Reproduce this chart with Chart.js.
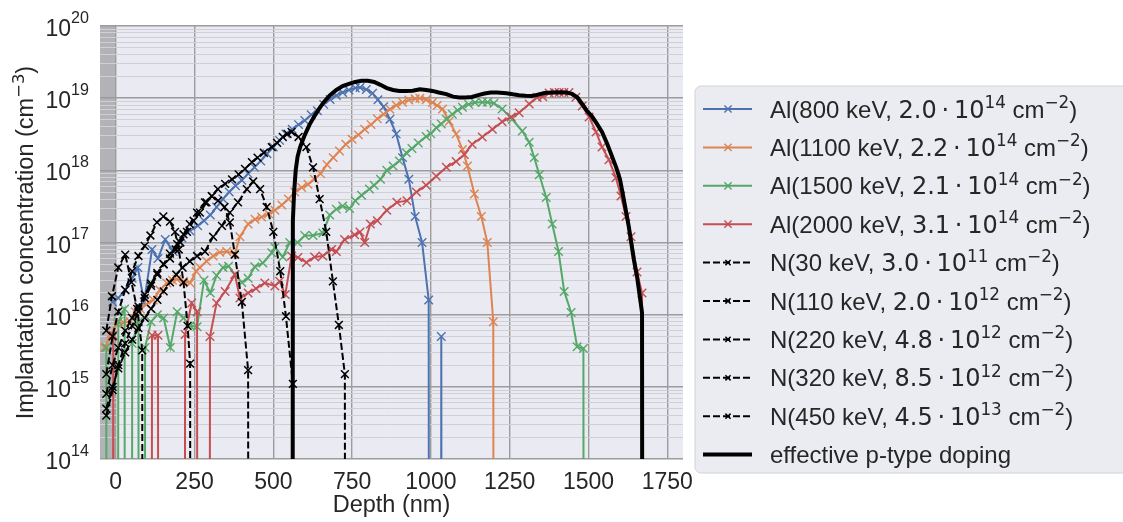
<!DOCTYPE html>
<html>
<head>
<meta charset="utf-8">
<title>Implantation profiles</title>
<script src="https://cdn.jsdelivr.net/npm/chart.js@4.4.1/dist/chart.umd.min.js"></script>
<style>
  html, body { margin: 0; padding: 0; background: #ffffff; overflow: hidden; }
  canvas { display: block; }
</style>
</head>
<body>
<canvas id="profiles" width="1123" height="522"></canvas>
<script>
const FONT = '"Liberation Sans", Arial, sans-serif';
const MATH_FONT = '"DejaVu Sans", sans-serif';
const TEXT = '#262626';
// empty depth bins (zero counts): far below the log axis, so the line drops straight down
const ZERO = 1e-100;

// axes
const depthTicks = [0, 250, 500, 750, 1000, 1250, 1500, 1750];
const concDecades = [14, 15, 16, 17, 18, 19, 20];
const minorSteps = [2, 3, 4, 5, 6, 7, 8, 9];
const removedLayer = [-50, 0];   // grey band, depth < 0
const xTitle = 'Depth (nm)';
const yTitle = 'Implantation concentration (cm$^{\u22123}$)';

// $...$ = math part (DejaVu), ^{...} = superscript
const seriesLabels = [
  'Al(800 keV, $2.0\u2009\u00b7\u200910^{14}$ cm$^{\u22122}$)',
  'Al(1100 keV, $2.2\u2009\u00b7\u200910^{14}$ cm$^{\u22122}$)',
  'Al(1500 keV, $2.1\u2009\u00b7\u200910^{14}$ cm$^{\u22122}$)',
  'Al(2000 keV, $3.1\u2009\u00b7\u200910^{14}$ cm$^{\u22122}$)',
  'N(30 keV, $3.0\u2009\u00b7\u200910^{11}$ cm$^{\u22122}$)',
  'N(110 keV, $2.0\u2009\u00b7\u200910^{12}$ cm$^{\u22122}$)',
  'N(220 keV, $4.8\u2009\u00b7\u200910^{12}$ cm$^{\u22122}$)',
  'N(320 keV, $8.5\u2009\u00b7\u200910^{12}$ cm$^{\u22122}$)',
  'N(450 keV, $4.5\u2009\u00b7\u200910^{13}$ cm$^{\u22122}$)',
  'effective p-type doping'
];
const alColors = ['#4C72B0', '#DD8452', '#55A868', '#C44E52'];

// [depth nm, concentration cm^-3]
const al800 = [
  [-10, 1.5e16], [8, 1.7e16], [30, 2.2e16], [52, 3.2e16], [70, 4.5e16], [90, 1.5e16],
  [115, 8e16], [134, 6e16], [157, 1.1e17], [182, 7.5e16], [210, 1.15e17], [235, 1.45e17],
  [260, 1.7e17], [280, 2e17], [300, 2.4e17], [320, 3.1e17], [340, 4e17], [360, 5e17],
  [380, 6.1e17], [400, 7.3e17], [420, 9e17], [440, 1.1e18], [460, 1.35e18], [480, 1.7e18],
  [500, 2.1e18], [520, 2.6e18], [540, 3.2e18], [560, 3.7e18], [580, 4.3e18], [600, 4.9e18],
  [620, 5.9e18], [640, 6.7e18], [660, 8.2e18], [680, 9.6e18], [700, 1.09e19], [720, 1.2e19],
  [740, 1.3e19], [760, 1.38e19], [775, 1.41e19], [795, 1.32e19], [815, 1.17e19], [832, 9.5e18],
  [850, 7.6e18], [870, 5.1e18], [890, 3.2e18], [910, 1.5e18], [930, 7.5e17], [950, 2.3e17],
  [972, 1.0e17], [993, 1.6e16], [1013, ZERO], [1033, 5e15], [1053, ZERO]
];
const al1100 = [
  [-35, 3.5e15], [-15, 5.5e15], [5, 7.5e15], [25, 7.8e15], [46, 8e15], [62, 1.1e16],
  [78, 1.2e16], [98, 1.4e16], [119, 1.6e16], [140, 2.2e16], [162, 2.75e16], [180, 3e16],
  [194, 3.1e16], [215, 2.9e16], [236, 2.75e16], [255, 4e16], [267, 4.5e16], [288, 5.5e16],
  [309, 6.5e16], [330, 7.3e16], [352, 7.5e16], [378, 7e16], [394, 1.2e17], [420, 1.8e17],
  [442, 2.1e17], [463, 2.25e17], [485, 2.5e17], [505, 2.8e17], [527, 3.3e17], [548, 4e17],
  [568, 5e17], [590, 5.8e17], [610, 6.4e17], [630, 7.5e17], [650, 9e17], [670, 1.2e18],
  [690, 1.5e18], [710, 1.85e18], [730, 2.3e18], [750, 2.7e18], [770, 3.1e18], [790, 3.7e18],
  [810, 4.3e18], [830, 5.2e18], [850, 6.0e18], [870, 7.0e18], [890, 8.0e18], [910, 8.8e18],
  [930, 9.4e18], [950, 9.8e18], [965, 1.0e19], [985, 9.5e18], [1005, 8.7e18], [1020, 7.9e18],
  [1037, 7.1e18], [1058, 4.8e18], [1080, 3.2e18], [1100, 1.95e18], [1116, 1.15e18],
  [1138, 4.7e17], [1160, 2.3e17], [1179, 1.0e17], [1198, 8e15], [1218, ZERO]
];
const al1500 = [
  [-30, 3.5e15], [-12, ZERO], [8, 8e15], [28, 1.2e16], [45, ZERO], [52, 4e15], [72, 8e15],
  [88, ZERO], [93, 3.5e15], [112, 8e15], [132, 1.0e16], [152, 9e15], [173, 3.5e15],
  [195, 1.1e16], [215, 9e15], [236, 7e15], [258, 6.8e15], [280, 3e16], [300, 2e16],
  [320, 3.5e16], [340, 4.5e16], [358, 4.7e16], [378, 3.6e16], [400, 2.8e16], [420, 3.2e16],
  [441, 4.6e16], [467, 5.2e16], [495, 7.2e16], [505, 8.5e16], [530, 6.3e16], [552, 1.0e17],
  [577, 1.0e17], [600, 1.25e17], [626, 1.25e17], [657, 1.35e17], [679, 2.4e17], [700, 2.9e17],
  [720, 3.2e17], [742, 2.95e17], [760, 3.8e17], [780, 4.5e17], [805, 5.5e17], [820, 6.2e17],
  [840, 7.5e17], [860, 1.0e18], [880, 1.15e18], [900, 1.35e18], [922, 1.75e18], [940, 2.0e18],
  [960, 2.4e18], [985, 2.95e18], [1000, 3.2e18], [1017, 3.9e18], [1033, 4.4e18], [1049, 5.1e18],
  [1068, 6.0e18], [1085, 6.8e18], [1100, 7.5e18], [1120, 8.2e18], [1140, 8.7e18], [1163, 8.8e18],
  [1180, 8.8e18], [1200, 8.5e18], [1226, 7.1e18], [1258, 5.1e18], [1290, 3.5e18], [1312, 2.45e18],
  [1328, 1.5e18], [1344, 8.7e17], [1366, 4.2e17], [1385, 1.8e17], [1405, 7.5e16], [1423, 2.1e16],
  [1445, 1.07e16], [1464, 3.6e15], [1484, 3.4e15], [1504, ZERO]
];
const al2000 = [
  [-30, ZERO], [-8, 5.2e15], [12, ZERO], [95, ZERO], [115, 5.2e15], [134, 5.2e15], [155, ZERO],
  [200, ZERO], [220, 5.3e15], [241, 1.45e16], [258, 1.1e16], [278, ZERO], [299, 5e15],
  [320, 1.45e16], [347, 2.1e16], [378, 3.6e16], [394, 1.7e16], [420, 2.0e16], [445, 2.3e16],
  [473, 2.75e16], [505, 2.5e16], [520, 2.9e16], [538, 1.9e16], [558, 6.5e16], [578, 6.2e16],
  [605, 5.3e16], [631, 6.3e16], [657, 6.5e16], [685, 8e16], [700, 7.5e16], [726, 1.1e17],
  [758, 1.28e17], [775, 1.4e17], [790, 1.0e17], [808, 1.8e17], [830, 2.0e17], [860, 2.8e17],
  [892, 3.6e17], [924, 3.8e17], [954, 5.0e17], [985, 6.2e17], [1017, 8.3e17], [1049, 1.1e18],
  [1080, 1.33e18], [1106, 1.66e18], [1131, 2.3e18], [1163, 2.9e18], [1195, 3.7e18],
  [1226, 4.7e18], [1255, 5.5e18], [1280, 6.3e18], [1312, 8.3e18], [1337, 1.02e19],
  [1355, 1.05e19], [1375, 1.18e19], [1392, 1.2e19], [1407, 1.2e19], [1422, 1.2e19],
  [1438, 1.2e19], [1460, 1.03e19], [1480, 7.8e18], [1502, 5.5e18], [1524, 3.4e18],
  [1543, 2.1e18], [1565, 1.4e18], [1587, 7.9e17], [1603, 4.4e17], [1619, 2.3e17],
  [1635, 1.2e17], [1654, 3.9e16], [1670, 2.0e16], [1690, ZERO]
];
const n30 = [
  [-30, 6e15], [-12, 1.8e16], [8, 4.5e16], [30, 6.8e16], [50, 2.8e16], [68, 1.2e16],
  [84, 3.2e15], [104, ZERO]
];
const n110 = [
  [-30, 1.5e15], [-10, 5e15], [8, 1.1e16], [30, 2.2e16], [52, 4e16], [72, 6.5e16],
  [92, 9e16], [110, 1.25e17], [131, 1.9e17], [151, 2.3e17], [172, 1.95e17], [188, 1.4e17],
  [200, 8e16], [215, 2.8e16], [228, 7e15], [236, 2.1e15], [254, ZERO]
];
const n220 = [
  [-30, 8e14], [-10, 2e15], [8, 3.5e15], [30, 6e15], [52, 9e15], [72, 1.3e16], [92, 1.9e16],
  [112, 2.7e16], [132, 3.8e16], [152, 5e16], [172, 6e16], [190, 8e16], [205, 1.0e17],
  [226, 1.4e17], [247, 2e17], [267, 2.6e17], [288, 3.6e17], [305, 4.4e17], [325, 3.8e17],
  [345, 3.1e17], [362, 1.9e17], [378, 6.8e16], [400, 1.5e16], [420, 1.7e15], [440, ZERO]
];
const n320 = [
  [-30, 5e14], [-10, 1e15], [8, 1.8e15], [30, 3e15], [52, 4.5e15], [72, 6.5e15], [92, 9e15],
  [112, 1.2e16], [132, 1.6e16], [152, 2.1e16], [172, 2.8e16], [192, 3.6e16], [212, 4.5e16],
  [235, 5.5e16], [258, 6.5e16], [283, 7.5e16], [309, 1.2e17], [337, 1.7e17], [362, 2.6e17],
  [388, 3.6e17], [416, 5.5e17], [436, 7e17], [458, 5.5e17], [479, 3.1e17], [500, 1.4e17],
  [522, 4e16], [540, 9.5e15], [562, 1.1e15], [582, ZERO]
];
const n450 = [
  [-30, 4e14], [-10, 9e14], [8, 2e15], [30, 4e15], [52, 7e15], [72, 1.1e16], [92, 1.7e16],
  [112, 2.5e16], [132, 3.6e16], [152, 5e16], [172, 7e16], [195, 9.5e16], [215, 1.3e17],
  [235, 1.8e17], [258, 2.6e17], [283, 3.6e17], [305, 4.4e17], [324, 5.5e17], [347, 6.5e17],
  [369, 7.5e17], [390, 8.8e17], [410, 1.05e18], [432, 1.3e18], [450, 1.5e18], [470, 1.75e18],
  [495, 2.1e18], [512, 2.4e18], [530, 2.9e18], [545, 3.2e18], [558, 3.4e18], [580, 2.9e18],
  [605, 2.1e18], [626, 1.1e18], [647, 4e17], [668, 1.4e17], [689, 2.9e16], [708, 7.2e15],
  [727, 1.5e15], [747, ZERO]
];
const pEff = [
  [545, ZERO], [562, 2e17], [566, 5e17], [571, 1.0e18], [577, 1.55e18], [585, 2.1e18],
  [600, 3.1e18], [615, 4.3e18], [630, 5.6e18], [645, 7.1e18], [660, 8.8e18], [680, 1.1e19],
  [700, 1.3e19], [720, 1.47e19], [740, 1.58e19], [760, 1.68e19], [780, 1.74e19], [800, 1.74e19],
  [820, 1.68e19], [840, 1.53e19], [860, 1.38e19], [880, 1.3e19], [900, 1.26e19], [920, 1.26e19],
  [942, 1.27e19], [965, 1.33e19], [985, 1.3e19], [1005, 1.26e19], [1025, 1.2e19], [1049, 1.14e19],
  [1070, 1.05e19], [1090, 1.02e19], [1110, 1.02e19], [1130, 1.04e19], [1150, 1.1e19],
  [1170, 1.16e19], [1190, 1.2e19], [1210, 1.2e19], [1240, 1.17e19], [1260, 1.13e19],
  [1280, 1.1e19], [1300, 1.08e19], [1321, 1.07e19], [1340, 1.12e19], [1360, 1.18e19],
  [1385, 1.2e19], [1410, 1.21e19], [1430, 1.2e19], [1448, 1.15e19], [1465, 1.02e19],
  [1480, 8.3e18], [1495, 6.7e18], [1511, 5.6e18], [1527, 4.4e18], [1543, 3.4e18],
  [1560, 2.3e18], [1575, 1.55e18], [1588, 1.1e18], [1600, 7.5e17], [1612, 4.0e17],
  [1628, 1.66e17], [1644, 5.8e16], [1654, 3.4e16], [1670, 1.07e16], [1690, ZERO]
];

const alSeries = [al800, al1100, al1500, al2000];
const nSeries = [n30, n110, n220, n320, n450];
const toXY = arr => arr.map(p => ({ x: p[0], y: p[1] }));

const datasets = [];
alSeries.forEach((s, i) => datasets.push({
  label: seriesLabels[i],
  data: toXY(s),
  borderColor: alColors[i],
  borderWidth: 2,
  pointStyle: 'crossRot',
  pointRadius: 6,
  pointBorderWidth: 1.4,
  pointBorderColor: alColors[i],
  pointBackgroundColor: alColors[i]
}));
nSeries.forEach((s, i) => datasets.push({
  label: seriesLabels[4 + i],
  data: toXY(s),
  borderColor: '#000000',
  borderWidth: 2,
  borderDash: [7, 3],
  pointStyle: 'crossRot',
  pointRadius: 5.5,
  pointBorderWidth: 1.5,
  pointBorderColor: '#000000',
  pointBackgroundColor: '#000000'
}));
datasets.push({
  label: seriesLabels[9],
  data: toXY(pEff),
  borderColor: '#000000',
  borderWidth: 4,
  pointRadius: 0
});
// later datasets on top, like matplotlib
datasets.forEach((d, i) => {
  d.order = datasets.length - i;
  d.clip = 0;
  d.fill = false;
  d.tension = 0;
  d.pointHoverRadius = 0;
});

// split text into runs: $ toggles the math font, ^{...} is a superscript
function parseRich(s) {
  const runs = [];
  let math = false;
  s.split(/(\$|\^\{[^}]*\})/).forEach(tok => {
    if (!tok) return;
    if (tok === '$') { math = !math; return; }
    if (tok.startsWith('^{')) runs.push({ t: tok.slice(2, -1), sup: true, math });
    else runs.push({ t: tok, sup: false, math });
  });
  return runs;
}

function drawRich(ctx, s, x, y, o) {
  const runs = parseRich(s);
  let w = 0;
  runs.forEach(r => {
    r.font = (r.sup ? (o.size * 0.7).toFixed(2) : o.size) + 'px ' + (r.math ? MATH_FONT : FONT);
    ctx.font = r.font;
    r.w = ctx.measureText(r.t).width;
    w += r.w;
  });
  let cx = o.align === 'right' ? x - w : o.align === 'center' ? x - w / 2 : x;
  ctx.textAlign = 'left';
  ctx.textBaseline = 'alphabetic';
  runs.forEach(r => {
    ctx.font = r.font;
    ctx.fillText(r.t, cx, r.sup ? y - (o.raise || 8) : y);
    cx += r.w;
  });
}

function drawLegend(chart) {
  const ctx = chart.ctx;
  const bx = 695, by = 86, bw = 470, bh = 387, r = 6;
  ctx.save();
  ctx.beginPath();
  ctx.moveTo(bx + r, by);
  ctx.lineTo(bx + bw - r, by);
  ctx.arcTo(bx + bw, by, bx + bw, by + r, r);
  ctx.lineTo(bx + bw, by + bh - r);
  ctx.arcTo(bx + bw, by + bh, bx + bw - r, by + bh, r);
  ctx.lineTo(bx + r, by + bh);
  ctx.arcTo(bx, by + bh, bx, by + bh - r, r);
  ctx.lineTo(bx, by + r);
  ctx.arcTo(bx, by, bx + r, by, r);
  ctx.closePath();
  ctx.fillStyle = '#EBEBF2';
  ctx.fill();
  ctx.strokeStyle = '#d2d2d6';
  ctx.lineWidth = 1;
  ctx.stroke();

  chart.data.datasets.forEach((ds, i) => {
    const ry = 109 + i * 38.4;
    ctx.strokeStyle = ds.borderColor;
    ctx.lineWidth = ds.borderWidth;
    ctx.setLineDash(ds.borderDash || []);
    ctx.beginPath();
    ctx.moveTo(703, ry);
    ctx.lineTo(752, ry);
    ctx.stroke();
    ctx.setLineDash([]);
    if (ds.pointRadius > 0) {
      const h = ds.borderDash ? 2.6 : 3.6;
      ctx.lineWidth = ds.pointBorderWidth;
      ctx.beginPath();
      ctx.moveTo(728 - h, ry - h); ctx.lineTo(728 + h, ry + h);
      ctx.moveTo(728 - h, ry + h); ctx.lineTo(728 + h, ry - h);
      ctx.stroke();
    }
    ctx.fillStyle = TEXT;
    drawRich(ctx, ds.label, 770, ry + 8.5, { size: 24, align: 'left', raise: 9.5 });
  });
  ctx.restore();
}

const decor = {
  id: 'decor',
  beforeDraw(chart) {
    const { ctx, chartArea: a, scales: { x } } = chart;
    ctx.save();
    ctx.fillStyle = '#EAEAF2';
    ctx.fillRect(a.left, a.top, a.right - a.left, a.bottom - a.top);
    const x0 = x.getPixelForValue(removedLayer[0]);
    const x1 = x.getPixelForValue(removedLayer[1]);
    ctx.fillStyle = '#b2b2b7';
    ctx.fillRect(x0, a.top, x1 - x0, a.bottom - a.top);
    ctx.restore();
  },
  afterDraw(chart) {
    const { ctx, chartArea: a, scales: { x, y } } = chart;
    ctx.save();
    ctx.fillStyle = TEXT;
    depthTicks.forEach(v => {
      drawRich(ctx, String(v), x.getPixelForValue(v), 489, { size: 23, align: 'center' });
    });
    concDecades.forEach(d => {
      const py = y.getPixelForValue(Math.pow(10, d));
      drawRich(ctx, '10^{' + d + '}', 89, py + 10, { size: 23, align: 'right', raise: 13.5 });
    });
    drawRich(ctx, xTitle, (a.left + a.right) / 2, 512, { size: 23.5, align: 'center' });
    ctx.translate(33, (a.top + a.bottom) / 2);
    ctx.rotate(-Math.PI / 2);
    drawRich(ctx, yTitle, 0, 0, { size: 23.5, align: 'center', raise: 9 });
    ctx.restore();
    drawLegend(chart);
  }
};

new Chart(document.getElementById('profiles').getContext('2d'), {
  type: 'line',
  data: { datasets },
  options: {
    responsive: false,
    animation: false,
    devicePixelRatio: 1,
    events: [],
    layout: { padding: { left: 100, right: 440, top: 26, bottom: 63 } },
    scales: {
      x: {
        type: 'linear',
        min: -50,
        max: 1800,
        afterBuildTicks: s => { s.ticks = depthTicks.map(v => ({ value: v })); },
        ticks: { display: false },
        grid: { color: '#9c9c9c', lineWidth: 1.4, drawTicks: false },
        border: { display: false }
      },
      y: {
        type: 'logarithmic',
        min: 1e14,
        max: 1e20,
        afterBuildTicks: s => {
          const t = [];
          concDecades.forEach(d => {
            t.push({ value: Math.pow(10, d), major: true });
            if (d < 20) minorSteps.forEach(m => t.push({ value: m * Math.pow(10, d), major: false }));
          });
          s.ticks = t;
        },
        ticks: { display: false },
        grid: {
          color: c => (c.tick && c.tick.major ? '#9c9c9c' : '#cfcfd6'),
          lineWidth: c => (c.tick && c.tick.major ? 1.4 : 1),
          drawTicks: false
        },
        border: { display: false }
      }
    },
    plugins: {
      legend: { display: false },
      tooltip: { enabled: false }
    }
  },
  plugins: [decor]
});
</script>
</body>
</html>
